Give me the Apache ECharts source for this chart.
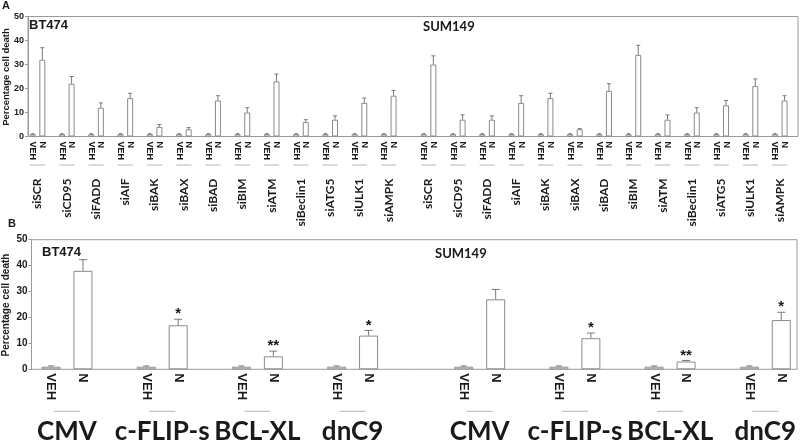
<!DOCTYPE html>
<html>
<head>
<meta charset="utf-8">
<script src="https://cdn.jsdelivr.net/npm/echarts@6/dist/echarts.min.js"></script>
<style>html,body{margin:0;padding:0;background:#fff;}#c{width:800px;height:441px;}</style>
</head>
<body>
<div id="c"></div>
<script>
// ---- Data ----
const groupsA = ['siSCR','siCD95','siFADD','siAIF','siBAK','siBAX','siBAD','siBIM','siATM','siBeclin1','siATG5','siULK1','siAMPK'];
const aBT474Veh     = [1,1,1,1,1,1,1,1,1,1,1,1,1];
const aBT474VehErr  = [0.2,0.2,0.2,0.2,0.2,0.2,0.2,0.2,0.2,0.2,0.2,0.2,0.2];
const aBT474N       = [32,22,12,16,4,3,15,10,23,6,7,14,17];
const aBT474NErr    = [5,3,2,2,1,0.7,2,2,3,1,1.6,2,2.2];
const aSUM149Veh    = [1,1,1,1,1,1,1,1,1,1,1,1,1];
const aSUM149VehErr = [0.2,0.2,0.2,0.2,0.2,0.2,0.2,0.2,0.2,0.2,0.2,0.2,0.2];
const aSUM149N      = [30,7,7,14,16,3,19,34,7,10,13,21,15];
const aSUM149NErr   = [3.6,2,1.6,3,2,0.3,3,4,2,2,2,3,2];

const groupsB = ['CMV','c-FLIP-s','BCL-XL','dnC9'];
const bBT474Veh     = [1,1,1,1];
const bBT474VehErr  = [0.3,0.3,0.3,0.3];
const bBT474N       = [38,17,5,13];
const bBT474NErr    = [4.3,2.3,2,2];
const bBT474Stars   = ['','*','**','*'];
const bSUM149Veh    = [1,1,1,1];
const bSUM149VehErr = [0.3,0.3,0.3,0.3];
const bSUM149N      = [27,12,3,19];
const bSUM149NErr   = [3.8,2,0.4,3];
const bSUM149Stars  = ['','*','**','*'];

const yTicks = [0,10,20,30,40,50];
const yTitle = 'Percentage cell death';
const barLabels = ['VEH','N'];

// ---- Styles ----
const FRAME = '#9a9a9a';
const BAR = '#8a8a8a';
const ERR = '#7a7a7a';
const TEXT = '#1a1a1a';
const ARIAL = 'Liberation Sans';
const CAL = 'Lato';

const chart = echarts.init(document.getElementById('c'), null, {renderer:'canvas'});

function frameY(gi, fs){
  return {gridIndex:gi, type:'value', position:'left', min:yTicks[0], max:yTicks[yTicks.length-1], interval:10,
    axisLine:{show:true, lineStyle:{color:FRAME, width:1}},
    axisTick:{show:true, length:3, lineStyle:{color:FRAME}},
    splitLine:{show:false},
    axisLabel:{show:true, fontSize:fs, fontWeight:'bold', fontFamily:ARIAL, color:TEXT, margin:4}};
}
function hiddenY(gi){ return {gridIndex:gi, type:'value', min:0, max:50, show:false}; }

function labelAxisA(gi){
  return {gridIndex:gi, type:'category', data:groupsA,
    axisLine:{show:false}, axisTick:{show:false},
    axisLabel:{interval:0, rotate:90, margin:28, hideOverlap:false,
      formatter:v => '{t|' + v + '}{l|}',
      rich:{
        t:{fontSize:12, fontWeight:'bold', fontFamily:CAL, color:TEXT, padding:[0,13,0,0]},
        l:{width:1, height:15, backgroundColor:'#b5b5b5'}
      }}};
}
function labelAxisB(gi){
  return {gridIndex:gi, type:'category', data:groupsB,
    axisLine:{show:false}, axisTick:{show:false},
    axisLabel:{interval:0, margin:40, hideOverlap:false,
      formatter:v => '{l|}\n{t|' + v + '}',
      rich:{
        l:{width:26, height:1, lineHeight:4, backgroundColor:'#b5b5b5'},
        t:{fontSize:26, fontWeight:'bold', fontFamily:CAL, color:TEXT, lineHeight:36}
      }}};
}

function bars(gi, data, txt, bw, gap, fs, dist){
  return {type:'bar', xAxisIndex:gi, yAxisIndex:gi, data:data, barWidth:bw, barGap:gap,
    itemStyle:{color:'#ffffff', borderColor:BAR, borderWidth:1},
    label:{show:true, position:'bottom', distance:dist, rotate:-90, align:'left', verticalAlign:'middle',
      formatter:txt, fontSize:fs, fontWeight:'bold', fontFamily:ARIAL, color:TEXT},
    labelLayout:{hideOverlap:false},
    silent:true};
}
function errs(gi, values, e, offset, cap, stars, starSize){
  return {type:'custom', xAxisIndex:gi, yAxisIndex:gi, z:5, silent:true, clip:false,
    data: values.map((v,i) => [i, v, e[i]]),
    renderItem:(params, api) => {
      const i = api.value(0), v = api.value(1), er = api.value(2);
      const b = api.coord([i, v]);
      const t = api.coord([i, v + er]);
      const x = b[0] + offset;
      const ch = [
        {type:'line', shape:{x1:x, y1:b[1], x2:x, y2:t[1]}, style:{stroke:ERR, lineWidth:1}},
        {type:'line', shape:{x1:x-cap, y1:t[1], x2:x+cap, y2:t[1]}, style:{stroke:ERR, lineWidth:1}}
      ];
      if (stars && stars[params.dataIndex]) {
        ch.push({type:'text', style:{text:stars[params.dataIndex], x:x, y:t[1]-5,
          align:'center', verticalAlign:'middle', fontSize:starSize, fontWeight:'bold', fontFamily:ARIAL, fill:TEXT}});
      }
      return {type:'group', children:ch};
    }};
}

const wA = 6, gA = 0.6, offA = (wA + wA*gA)/2;
const wB = 19, gB = 0.68, offB = (wB + wB*gB)/2;

const G = {outerBoundsMode:'none', containLabel:false};
const option = {
  animation:false,
  backgroundColor:'#ffffff',
  grid:[
    Object.assign({left:28, top:16.5, width:770, height:120, show:true, borderColor:FRAME, borderWidth:1, backgroundColor:'transparent'}, G),
    Object.assign({left:22.9, top:16.5, width:380.5, height:120}, G),
    Object.assign({left:413.9, top:16.5, width:380.5, height:120}, G),
    Object.assign({left:31.5, top:239.7, width:765.5, height:129.6, show:true, borderColor:FRAME, borderWidth:1, backgroundColor:'transparent'}, G),
    Object.assign({left:19.4, top:239.7, width:380.8, height:129.6}, G),
    Object.assign({left:432.1, top:239.7, width:380.8, height:129.6}, G)
  ],
  xAxis:[
    {gridIndex:0, type:'category', data:[''], show:false},
    labelAxisA(1), labelAxisA(2),
    {gridIndex:3, type:'category', data:[''], show:false},
    labelAxisB(4), labelAxisB(5)
  ],
  yAxis:[
    frameY(0, 9), hiddenY(1), hiddenY(2),
    frameY(3, 10), hiddenY(4), hiddenY(5)
  ],
  graphic:[
    {type:'text', left:2, top:0, style:{text:'A', fontSize:11, fontWeight:'bold', fontFamily:ARIAL, fill:TEXT}},
    {type:'text', left:8, top:218, style:{text:'B', fontSize:11, fontWeight:'bold', fontFamily:ARIAL, fill:TEXT}},
    {type:'text', x:6, y:77, rotation:Math.PI/2, style:{text:yTitle, align:'center', verticalAlign:'middle', fontSize:9.5, fontWeight:'bold', fontFamily:ARIAL, fill:TEXT}},
    {type:'text', x:6.5, y:305, rotation:Math.PI/2, style:{text:yTitle, align:'center', verticalAlign:'middle', fontSize:10, fontWeight:'bold', fontFamily:ARIAL, fill:TEXT}},
    {type:'text', left:29, top:19, style:{text:'BT474', fontSize:13, fontWeight:'bold', fontFamily:ARIAL, fill:TEXT}},
    {type:'text', left:423, top:20, style:{text:'SUM149', fontSize:13, fontWeight:'bold', fontFamily:CAL, fill:TEXT}},
    {type:'text', left:42, top:246, style:{text:'BT474', fontSize:13, fontWeight:'bold', fontFamily:ARIAL, fill:TEXT}},
    {type:'text', left:435, top:247, style:{text:'SUM149', fontSize:13, fontWeight:'bold', fontFamily:CAL, fill:TEXT}}
  ],
  series:[
    bars(1, aBT474Veh, barLabels[0], wA, gA, 9, 5),
    bars(1, aBT474N, barLabels[1], wA, gA, 9, 5),
    errs(1, aBT474Veh, aBT474VehErr, -offA, 1.5, null, 0),
    errs(1, aBT474N, aBT474NErr, offA, 2, null, 0),
    bars(2, aSUM149Veh, barLabels[0], wA, gA, 9, 5),
    bars(2, aSUM149N, barLabels[1], wA, gA, 9, 5),
    errs(2, aSUM149Veh, aSUM149VehErr, -offA, 1.5, null, 0),
    errs(2, aSUM149N, aSUM149NErr, offA, 2, null, 0),
    bars(4, bBT474Veh, barLabels[0], wB, gB, 13, 4),
    bars(4, bBT474N, barLabels[1], wB, gB, 13, 4),
    errs(4, bBT474Veh, bBT474VehErr, -offB, 3, null, 0),
    errs(4, bBT474N, bBT474NErr, offB, 4, bBT474Stars, 15),
    bars(5, bSUM149Veh, barLabels[0], wB, gB, 13, 4),
    bars(5, bSUM149N, barLabels[1], wB, gB, 13, 4),
    errs(5, bSUM149Veh, bSUM149VehErr, -offB, 3, null, 0),
    errs(5, bSUM149N, bSUM149NErr, offB, 4, bSUM149Stars, 15)
  ]
};
chart.setOption(option);
</script>
</body>
</html>
